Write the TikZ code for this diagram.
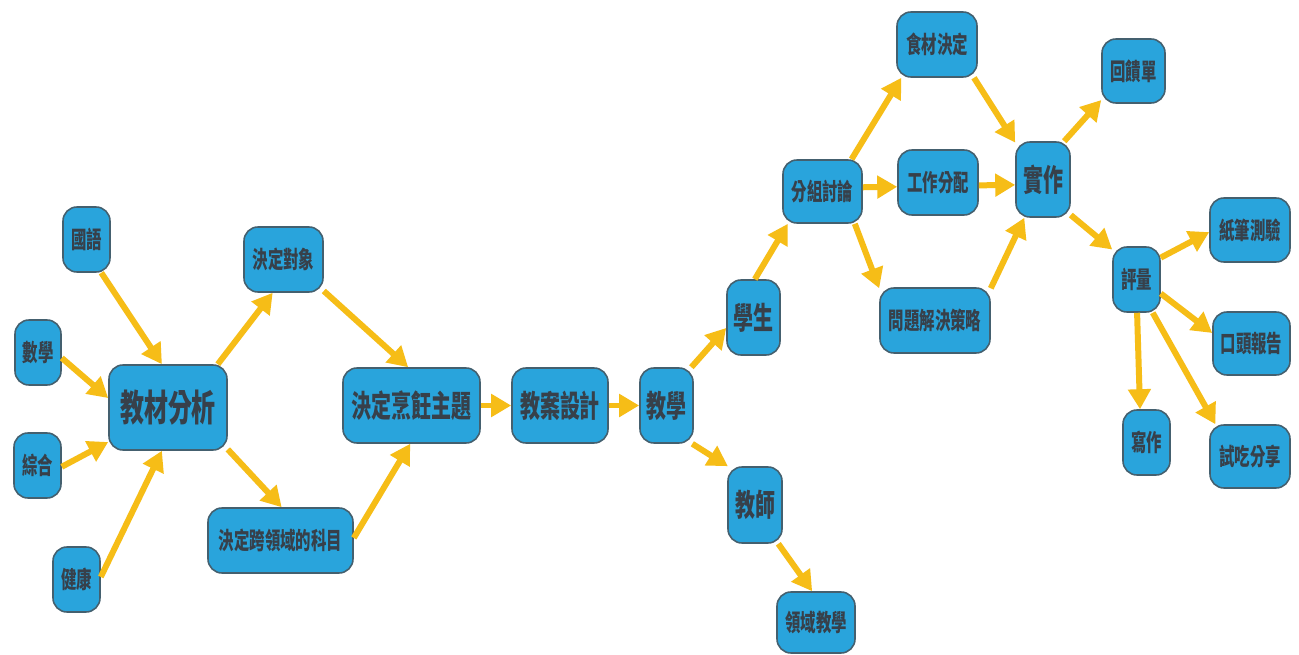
\documentclass[tikz,border=0pt]{standalone}
\usepackage{fontspec}
\newfontfamily\cjk[FakeStretch=0.65]{Noto Sans CJK TC}
\usetikzlibrary{arrows.meta}

\definecolor{boxfill}{HTML}{29A4DC}
\definecolor{boxline}{HTML}{44606F}
\definecolor{boxtext}{HTML}{37404A}
\definecolor{flow}{HTML}{F6BD17}

\tikzset{
  box/.style={draw=boxline, line width=0.9pt, fill=boxfill, rounded corners=0.28cm,
    text=boxtext, inner sep=0pt, align=center,
    font=\cjk\bfseries\fontsize{13.5}{14}\selectfont},
  mid/.style={font=\cjk\bfseries\fontsize{17.5}{18}\selectfont},
  big/.style={font=\cjk\bfseries\fontsize{21}{22}\selectfont},
  sz/.style 2 args={minimum width=#1*0.02cm, minimum height=#2*0.02cm},
  flowarrow/.style={draw=flow, line width=0.12cm,
    -{Triangle[length=0.4cm,width=0.44cm]}},
}

\begin{document}
\begin{tikzpicture}[x=0.02cm, y=-0.02cm]
  \fill[white] (0,0) rectangle (1299,655);
  \useasboundingbox (0,0) rectangle (1299,655);

  % subjects feeding the analysis
  \node[box, sz={47}{65}] (guoyu)    at (86.5,239.5) {國語};
  \node[box, sz={46}{65}] (shuxue)   at (38,352.5)   {數學};
  \node[box, sz={47}{65}] (zonghe)   at (37.5,465.5) {綜合};
  \node[box, sz={47}{65}] (jiankang) at (76.5,579.5) {健康};
  \node[box, big, sz={118}{85}] (jiaocai) at (168,407.5) {教材分析};

  % planning chain
  \node[box, sz={79}{65}]  (duixiang) at (283.5,259.5) {決定對象};
  \node[box, sz={145}{65}] (kua)      at (280.5,540.5) {決定跨領域的科目};
  \node[box, mid, sz={137}{75}] (zhuti)   at (411.5,405.5) {決定烹飪主題};
  \node[box, mid, sz={96}{75}]  (jiaoan)  at (560,405.5)   {教案設計};
  \node[box, mid, sz={53}{75}]  (jiaoxue) at (666.5,405.5) {教學};

  % teaching branches
  \node[box, mid, sz={53}{75}] (xuesheng) at (753.5,317.5) {學生};
  \node[box, mid, sz={54}{76}] (jiaoshi)  at (755,505)     {教師};
  \node[box, sz={78}{61}]  (lingyu)  at (816,622.5)  {領域教學};
  \node[box, sz={79}{63}]  (fenzu)   at (822.5,191.5){分組討論};
  \node[box, sz={80}{65}]  (gongzuo) at (938,182.5)  {工作分配};
  \node[box, sz={110}{65}] (wenti)   at (935,320.5)  {問題解決策略};
  \node[box, sz={80}{65}]  (shicai)  at (937,44.5)   {食材決定};
  \node[box, mid, sz={54}{75}] (shizuo) at (1043,179.5) {實作};

  % outcomes and assessment
  \node[box, sz={63}{64}] (huikui)    at (1133.5,71)   {回饋單};
  \node[box, sz={47}{65}] (pingliang) at (1136.5,279.5){評量};
  \node[box, sz={80}{64}] (zhibi)     at (1250,230)    {紙筆測驗};
  \node[box, sz={77}{63}] (koutou)    at (1251.5,343.5){口頭報告};
  \node[box, sz={47}{65}] (xiezuo)    at (1146.5,442.5){寫作};
  \node[box, sz={80}{63}] (shichi)    at (1250,456.5)  {試吃分享};

  % connectors
  \draw[flowarrow] (guoyu.-66)   -- (jiaocai.98);
  \draw[flowarrow] (shuxue.-13)  -- (jiaocai.171);
  \draw[flowarrow] (zonghe.-3)   -- (jiaocai.210);
  \draw[flowarrow] (jiankang.6)  -- (jiaocai.262);
  \draw[flowarrow] (jiaocai.41)  -- (duixiang.-108);
  \draw[flowarrow] (jiaocai.-35) -- (kua.88);
  \draw[flowarrow] (duixiang.-38) -- (zhuti.95);
  \draw[flowarrow] (kua.2)       -- (zhuti.-92);
  \draw[flowarrow] (zhuti.east)  -- (jiaoan.west);
  \draw[flowarrow] (jiaoan.east) -- (jiaoxue.west);
  \draw[flowarrow] (jiaoxue.57)  -- (xuesheng.201);
  \draw[flowarrow] (jiaoxue.-56) -- (jiaoshi.125);
  \draw[flowarrow] (jiaoshi.-59) -- (lingyu.97);
  \draw[flowarrow] (xuesheng.88) -- (fenzu.223);
  \draw[flowarrow] (fenzu.6)     -- (gongzuo.186);
  \draw[flowarrow] (fenzu.-45)   -- (wenti.150);
  \draw[flowarrow] (fenzu.48)    -- (shicai.223);
  \draw[flowarrow] (shicai.-42)  -- (shizuo.127);
  \draw[flowarrow] (gongzuo.-4)  -- (shizuo.191);
  \draw[flowarrow] (wenti.30)    -- (shizuo.244);
  \draw[flowarrow] (shizuo.61)   -- (huikui.222);
  \draw[flowarrow] (shizuo.-52)  -- (pingliang.129);
  \draw[flowarrow] (pingliang.42)  -- (zhibi.183);
  \draw[flowarrow] (pingliang.-30) -- (koutou.165);
  \draw[flowarrow] (pingliang.-89) -- (xiezuo.101);
  \draw[flowarrow] (pingliang.-64) -- (shichi.137);
\end{tikzpicture}
\end{document}
